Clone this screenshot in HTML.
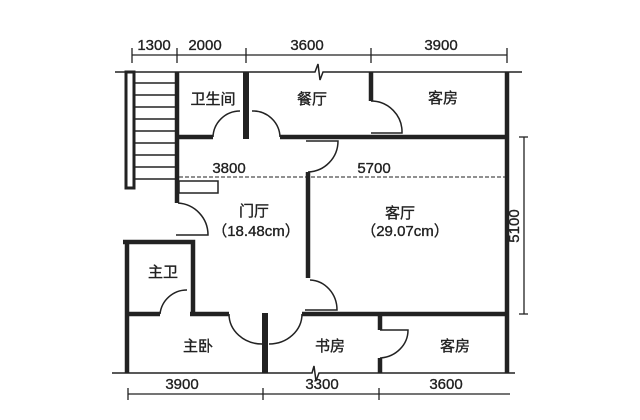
<!DOCTYPE html>
<html><head><meta charset="utf-8"><style>
html,body{margin:0;padding:0;background:#fff;}
svg{display:block;}
text{font-family:"Liberation Sans","Noto Sans CJK SC",sans-serif;fill:#222;stroke:#222;stroke-width:0.35;}
</style></head><body>
<svg width="640" height="420" viewBox="0 0 640 420" xmlns="http://www.w3.org/2000/svg">
<g stroke="#222" fill="none">
<line x1="132" y1="55" x2="507" y2="55" stroke-width="1.3"/>
<g stroke-width="1.3"><line x1="132" y1="48" x2="132" y2="63"/><line x1="177" y1="48" x2="177" y2="63"/><line x1="246" y1="48" x2="246" y2="63"/><line x1="371" y1="48" x2="371" y2="63"/><line x1="507" y1="48" x2="507" y2="63"/></g>
<polyline points="115,72 315,72 318,64 320,80 323,72 522,72" stroke-width="1.5"/>
<rect x="126" y="72" width="8" height="116" stroke-width="3"/>
<line x1="177" y1="72" x2="177" y2="203" stroke-width="4.5"/>
<g stroke-width="1.5">
<line x1="134" y1="83" x2="177" y2="83"/><line x1="134" y1="95" x2="177" y2="95"/><line x1="134" y1="107" x2="177" y2="107"/><line x1="134" y1="119" x2="177" y2="119"/><line x1="134" y1="131" x2="177" y2="131"/><line x1="134" y1="143" x2="177" y2="143"/><line x1="134" y1="155" x2="177" y2="155"/><line x1="134" y1="167" x2="177" y2="167"/><line x1="134" y1="179" x2="177" y2="179"/>
</g>
<rect x="179" y="181" width="39" height="12" stroke-width="1.5"/>
<line x1="246" y1="72" x2="246" y2="139" stroke-width="6"/>
<line x1="371" y1="72" x2="371" y2="101" stroke-width="4.5"/>
<path d="M371,101 A31,31 0 0 1 402,133 L371,133" stroke-width="1.5"/>
<line x1="507" y1="72" x2="507" y2="373" stroke-width="4.5"/>
<line x1="177" y1="137" x2="213" y2="137" stroke-width="4.5"/>
<line x1="280" y1="137" x2="507" y2="137" stroke-width="4.5"/>
<path d="M213,137 A27,27 0 0 1 240,111" stroke-width="1.5"/>
<path d="M280,137 A27,27 0 0 0 252,111" stroke-width="1.5"/>
<path d="M306,141 L338,141 A31,31 0 0 1 308,172" stroke-width="1.5"/>
<line x1="308" y1="172" x2="308" y2="278" stroke-width="4.5"/>
<path d="M310,280 A28,30 0 0 1 337,310 L305,310" stroke-width="1.5"/>
<line x1="179" y1="177" x2="505" y2="177" stroke-width="1" stroke-dasharray="4,2"/>
<path d="M178,203 A32,32 0 0 1 208,235 L176,235" stroke-width="1.5"/>
<polyline points="123,242 193,242 193,314" stroke-width="4.5"/>
<line x1="127" y1="242" x2="127" y2="373" stroke-width="4.5"/>
<line x1="127" y1="314" x2="160" y2="314" stroke-width="4.5"/>
<path d="M160,314 A27,27 0 0 1 187,290" stroke-width="1.5"/>
<line x1="190" y1="314" x2="229" y2="314" stroke-width="4.5"/>
<path d="M229,314 A33,30 0 0 0 262,344" stroke-width="1.5"/>
<line x1="265" y1="313" x2="265" y2="373" stroke-width="6"/>
<path d="M302,314 A33,30 0 0 1 269,344" stroke-width="1.5"/>
<line x1="302" y1="314" x2="507" y2="314" stroke-width="4.5"/>
<line x1="380" y1="314" x2="380" y2="330" stroke-width="4.5"/>
<path d="M380,330 L408,330 A30,28 0 0 1 380,358" stroke-width="1.5"/>
<line x1="380" y1="358" x2="380" y2="373" stroke-width="4.5"/>
<polyline points="112,373 312,373 314,366 316,381 319,373 515,373" stroke-width="1.5"/>
<line x1="128" y1="394" x2="510" y2="394" stroke-width="1.3"/>
<g stroke-width="1.3"><line x1="128" y1="388" x2="128" y2="400"/><line x1="263" y1="388" x2="263" y2="400"/><line x1="379" y1="388" x2="379" y2="400"/></g>
<line x1="524" y1="137" x2="524" y2="314" stroke-width="1.3"/>
<line x1="519" y1="137" x2="528" y2="137" stroke-width="1.3"/>
<line x1="519" y1="314" x2="528" y2="314" stroke-width="1.3"/>
</g>
<g font-size="15" text-anchor="middle">
<text x="154" y="50">1300</text><text x="205" y="50">2000</text><text x="307" y="50">3600</text><text x="441" y="50">3900</text>
<text x="213" y="104">卫生间</text><text x="312" y="104">餐厅</text><text x="443" y="103">客房</text>
<text x="229" y="173">3800</text><text x="374" y="173">5700</text>
<text x="254" y="216">门厅</text><text x="256" y="236">（18.48cm）</text>
<text x="400" y="218">客厅</text><text x="405" y="236">（29.07cm）</text>
<text x="163" y="277">主卫</text><text x="198" y="351">主卧</text><text x="330" y="351">书房</text><text x="455" y="351">客房</text>
<text x="182" y="389">3900</text><text x="322" y="389">3300</text><text x="446" y="389">3600</text>
<text x="0" y="0" transform="translate(519,226) rotate(-90)">5100</text>
</g>
</svg>
</body></html>
